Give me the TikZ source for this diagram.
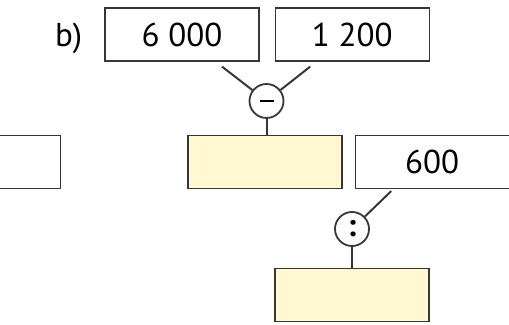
\documentclass[tikz,border=0pt]{standalone}
\usepackage{fontspec}
\setmainfont{PT Sans}
\usepackage{xcolor}
\usepackage{tikz}
\usetikzlibrary{positioning, calc}
\definecolor{colEdge}{RGB}{55,55,55}
\definecolor{colAnswer}{RGB}{255,248,208}

\begin{document}
\begin{tikzpicture}[
  node distance=6pt and 7.5pt,
  numbox/.style={draw=colEdge, line width=0.6pt, minimum width=77pt, minimum height=26.5pt,
                 fill=#1, font=\fontsize{16.5}{19}\selectfont, inner sep=0pt},
  opcircle/.style={draw=colEdge, circle, line width=0.9pt, minimum size=17pt, inner sep=0pt,
                   fill=white, font=\fontsize{16}{18}\selectfont\bfseries},
  conn/.style={line width=1pt, colEdge},
]
\useasboundingbox (0,0) rectangle (254.5pt,-162.5pt);
\clip (0,0) rectangle (254.5pt,-162.5pt);

% ─── TOP ROW ──────────────────────────────────────────────────────────────────
\node[numbox=white] (box6000) at (91pt,-17.25pt) {6 000};
\node[numbox=white, right=7.5pt of box6000] (box1200) {1 200};
\node[inner sep=0pt, font=\fontsize{16.5}{19}\selectfont,
      left=11pt of box6000.base west, anchor=base east] (lblb) {b)};

% ─── SUBTRACTION ──────────────────────────────────────────────────────────────
\node[opcircle] (minus) at (133.25pt,-50.5pt) {\rule{7pt}{1.4pt}};
\node[numbox=colAnswer, below=8pt of minus, xshift=-0.75pt] (ans1) {};

\draw[conn] ($(box6000.south)+(20pt,-2.5pt)$) -- (minus);
\draw[conn] ($(box1200.south)+(-21pt,-2.5pt)$) -- (minus);
\draw[conn] (minus) -- (minus |- ans1.north);

% ─── MIDDLE ROW ───────────────────────────────────────────────────────────────
\node[numbox=white, left=63pt of ans1] (boxleft) {};
\node[numbox=white, right=6pt of ans1] (box600) {\raisebox{-1pt}{600}};

% ─── DIVISION ─────────────────────────────────────────────────────────────────
\node[opcircle] (divide) at (176pt,-114.5pt) {:};
\node[numbox=colAnswer, below=10.5pt of divide] (ans2) {};

\draw[conn] ($(box600.south)+(-20.5pt,-1pt)$) -- (divide);
\draw[conn] (divide) -- (divide |- ans2.north);

\end{tikzpicture}
\end{document}
